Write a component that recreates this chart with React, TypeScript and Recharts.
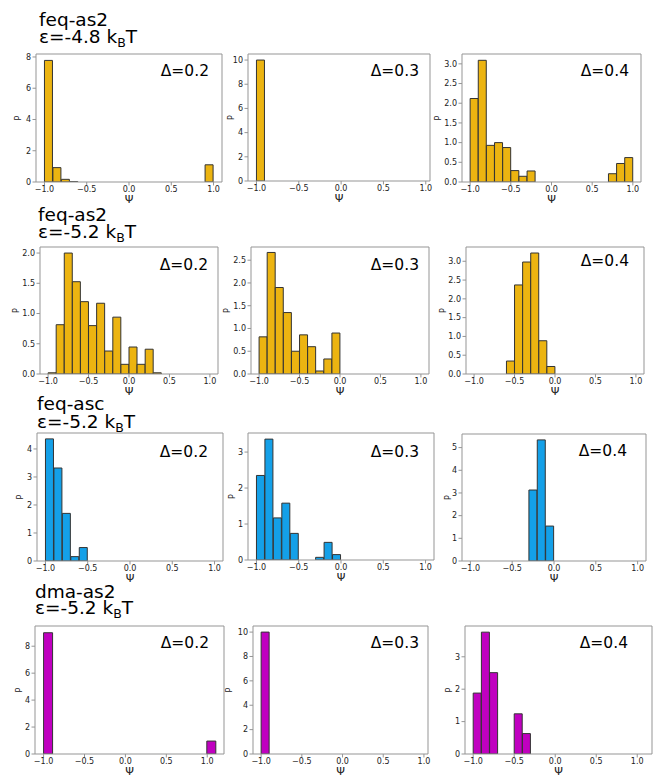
import React from 'react';
import { BarChart, Bar, XAxis, YAxis } from 'recharts';

// ---------- bin centres (categories) ----------
const BINS = [-0.95, -0.85, -0.75, -0.65, -0.55, -0.45, -0.35, -0.25, -0.15, -0.05,
  0.05, 0.15, 0.25, 0.35, 0.45, 0.55, 0.65, 0.75, 0.85, 0.95];
const BINS_WIDE = [-0.9475, -0.8425, -0.7375, -0.6325, -0.5275, -0.4225, -0.3175, -0.2125, -0.1075, -0.0025,
  0.1025, 0.2075, 0.3125, 0.4175, 0.5225, 0.6275, 0.7325, 0.8375, 0.9425, 1.0475];

// ---------- series values (probability density per bin) ----------
const FEQ_AS2_E48_D02 = [7.78, 0.92, 0.17, 0.02, 0, 0, 0, 0, 0, 0, 0, 0, 0, 0, 0, 0, 0, 0, 0, 1.1];
const FEQ_AS2_E48_D03 = [10, 0, 0, 0, 0, 0, 0, 0, 0, 0, 0, 0, 0, 0, 0, 0, 0, 0, 0, 0];
const FEQ_AS2_E48_D04 = [2.12, 3.09, 0.93, 1.0, 0.875, 0.29, 0.145, 0.28, 0, 0, 0, 0, 0, 0, 0, 0, 0, 0.21, 0.47, 0.62];

const FEQ_AS2_E52_D02 = [0.02, 0.815, 2.0, 1.526, 1.196, 0.8, 1.17, 0.38, 0.94, 0.16, 0.446, 0.16, 0.41, 0.02, 0, 0, 0, 0, 0, 0];
const FEQ_AS2_E52_D03 = [0.816, 2.67, 1.9, 1.35, 0.5, 0.86, 0.6, 0.066, 0.33, 0.9, 0, 0, 0, 0, 0, 0, 0, 0, 0, 0];
const FEQ_AS2_E52_D04 = [0, 0, 0, 0, 0.345, 2.37, 2.98, 3.22, 0.885, 0.2, 0, 0, 0, 0, 0, 0, 0, 0, 0, 0];

const FEQ_ASC_E52_D02 = [4.36, 3.32, 1.7, 0.156, 0.48, 0, 0, 0, 0, 0, 0, 0, 0, 0, 0, 0, 0, 0, 0, 0];
const FEQ_ASC_E52_D03 = [2.35, 3.36, 1.17, 1.58, 0.74, 0, 0, 0.074, 0.49, 0.15, 0, 0, 0, 0, 0, 0, 0, 0, 0, 0];
const FEQ_ASC_E52_D04 = [0, 0, 0, 0, 0, 0, 0, 3.13, 5.34, 1.54, 0, 0, 0, 0, 0, 0, 0, 0, 0, 0];

const DMA_AS2_E52_D02 = [9.0, 0, 0, 0, 0, 0, 0, 0, 0, 0, 0, 0, 0, 0, 0, 0, 0, 0, 0, 0.96];
const DMA_AS2_E52_D03 = [10, 0, 0, 0, 0, 0, 0, 0, 0, 0, 0, 0, 0, 0, 0, 0, 0, 0, 0, 0];
const DMA_AS2_E52_D04 = [1.88, 3.76, 2.51, 0, 0, 1.24, 0.63, 0, 0, 0, 0, 0, 0, 0, 0, 0, 0, 0, 0, 0];

// ---------- tick labels ----------
const X_TICKS = [-1, -0.5, 0, 0.5, 1];
const YT_8 = [0, 2, 4, 6, 8];
const YT_10 = [0, 2, 4, 6, 8, 10];
const YT_3H = [0, 0.5, 1, 1.5, 2, 2.5, 3];
const YT_2H = [0, 0.5, 1, 1.5, 2];
const YT_25H = [0, 0.5, 1, 1.5, 2, 2.5];
const YT_4 = [0, 1, 2, 3, 4];
const YT_3 = [0, 1, 2, 3];
const YT_5 = [0, 1, 2, 3, 4, 5];

// ---------- row titles ----------
const ROW_NAMES = ['feq-as2', 'feq-as2', 'feq-asc', 'dma-as2'];
const ROW_EPS = ['-4.8', '-5.2', '-5.2', '-5.2'];
const DELTAS = ['Δ=0.2', 'Δ=0.3', 'Δ=0.4'];

// ---------- styles / layout ----------
const GOLD = '#ECB411';
const BLUE = '#14A0E8';
const MAGENTA = '#C000C0';
const EDGE = '#333333';
const FRAME = '#959595';
const TXT = '#222222';
const FONT = '"DejaVu Sans", sans-serif';

const TITLE_POS = [
  { x: 39, y1: 26, y2: 43 },
  { x: 38, y1: 221, y2: 238 },
  { x: 37, y1: 410, y2: 427.5 },
  { x: 35, y1: 598, y2: 614 },
];

const PANELS = [
  { bins: BINS, values: FEQ_AS2_E48_D02, color: GOLD, yMax: 8.19, yTicks: YT_8, dec: 0, xDomain: [-1.1, 1.1], box: [36, 54, 222, 182], pDist: 18, delta: 0, dX: 209, dY: 76 },
  { bins: BINS, values: FEQ_AS2_E48_D03, color: GOLD, yMax: 10.5, yTicks: YT_10, dec: 0, xDomain: [-1.1, 1.05], box: [248, 54, 430, 181], pDist: 17, delta: 1, dX: 419, dY: 76 },
  { bins: BINS, values: FEQ_AS2_E48_D04, color: GOLD, yMax: 3.25, yTicks: YT_3H, dec: 1, xDomain: [-1.1, 1.1], box: [462, 54, 641, 182], pDist: 24, delta: 2, dX: 629, dY: 76 },

  { bins: BINS, values: FEQ_AS2_E52_D02, color: GOLD, yMax: 2.1, yTicks: YT_2H, dec: 1, xDomain: [-1.1, 1.1], box: [40, 247, 218, 374], pDist: 24, delta: 0, dX: 208, dY: 270 },
  { bins: BINS, values: FEQ_AS2_E52_D03, color: GOLD, yMax: 2.79, yTicks: YT_25H, dec: 1, xDomain: [-1.1, 1.1], box: [251, 247, 429, 374], pDist: 24, delta: 1, dX: 419, dY: 270 },
  { bins: BINS, values: FEQ_AS2_E52_D04, color: GOLD, yMax: 3.38, yTicks: YT_3H, dec: 1, xDomain: [-1.1, 1.1], box: [466, 247, 644, 374], pDist: 23, delta: 2, dX: 629, dY: 266 },

  { bins: BINS, values: FEQ_ASC_E52_D02, color: BLUE, yMax: 4.57, yTicks: YT_4, dec: 0, xDomain: [-1.1, 1.1], box: [37, 433, 223, 561], pDist: 17, delta: 0, dX: 208, dY: 456.5 },
  { bins: BINS, values: FEQ_ASC_E52_D03, color: BLUE, yMax: 3.53, yTicks: YT_3, dec: 0, xDomain: [-1.1, 1.1], box: [248, 433, 434, 560], pDist: 16, delta: 1, dX: 419, dY: 457 },
  { bins: BINS, values: FEQ_ASC_E52_D04, color: BLUE, yMax: 5.6, yTicks: YT_5, dec: 0, xDomain: [-1.1, 1.1], box: [462, 434, 646, 561], pDist: 14, delta: 2, dX: 627, dY: 456 },

  { bins: BINS_WIDE, values: DMA_AS2_E52_D02, color: MAGENTA, yMax: 9.5, yTicks: YT_8, dec: 0, xDomain: [-1.105, 1.205], box: [35, 626, 224, 754], pDist: 16, delta: 0, dX: 209, dY: 648 },
  { bins: BINS, values: DMA_AS2_E52_D03, color: MAGENTA, yMax: 10.5, yTicks: YT_10, dec: 0, xDomain: [-1.1, 1.05], box: [253, 626, 428, 754], pDist: 24, delta: 1, dX: 419, dY: 648 },
  { bins: BINS, values: DMA_AS2_E52_D04, color: MAGENTA, yMax: 3.95, yTicks: YT_3, dec: 0, xDomain: [-1.1, 1.18], box: [465, 626, 652, 754], pDist: 16, delta: 2, dX: 628, dY: 648 },
];

const fmtX = (v: number) => (v < 0 ? '\u2212' : '') + Math.abs(v).toFixed(1);

function Panel({ cfg }: { cfg: any }) {
  const [l, t, r, b] = cfg.box;
  const mT = 6;
  const mR = 10;
  const xH = 26;
  const yW = cfg.pDist * 2;
  const w = (r - l) + yW + mR;
  const h = (b - t) + mT + xH;
  const data = cfg.bins.map((x: number, i: number) => ({ x, p: cfg.values[i] }));
  const tickStyle = { fontSize: 8, fill: TXT, fontFamily: FONT };
  return (
    <div style={{ position: 'absolute', left: l - yW, top: t - mT }}>
      <BarChart
        width={w}
        height={h}
        data={data}
        margin={{ top: mT - 1, right: mR - 1, left: 0, bottom: 0 }}
        barCategoryGap={0}
        barGap={0}
      >
        <XAxis
          dataKey="x"
          type="number"
          domain={cfg.xDomain}
          ticks={X_TICKS}
          interval={0}
          allowDataOverflow
          height={xH}
          tickSize={3.5}
          tickMargin={1}
          tick={tickStyle}
          tickLine={{ stroke: FRAME }}
          axisLine={{ stroke: FRAME }}
          tickFormatter={fmtX}
          label={{ value: 'Ψ', position: 'insideBottom', offset: xH - 21, fontSize: 11, fill: TXT, fontFamily: FONT }}
        />
        <XAxis
          xAxisId="top"
          dataKey="x"
          type="number"
          orientation="top"
          domain={cfg.xDomain}
          allowDataOverflow
          height={1}
          tick={false}
          tickLine={false}
          axisLine={{ stroke: FRAME }}
        />
        <YAxis
          type="number"
          domain={[0, cfg.yMax]}
          ticks={cfg.yTicks}
          interval={0}
          allowDataOverflow
          width={yW}
          tickSize={3.5}
          tickMargin={1.5}
          tick={tickStyle}
          tickLine={{ stroke: FRAME }}
          axisLine={{ stroke: FRAME }}
          tickFormatter={(v: number) => v.toFixed(cfg.dec)}
          label={{ value: 'P', angle: -90, position: 'center', fontSize: 8, fill: TXT, fontFamily: FONT }}
        />
        <YAxis
          yAxisId="right"
          orientation="right"
          type="number"
          domain={[0, cfg.yMax]}
          allowDataOverflow
          width={1}
          tick={false}
          tickLine={false}
          axisLine={{ stroke: FRAME }}
        />
        <Bar dataKey="p" fill={cfg.color} stroke={EDGE} strokeWidth={1} isAnimationActive={false} />
      </BarChart>
    </div>
  );
}

export default function App() {
  return (
    <div style={{ position: 'absolute', left: 0, top: 0, width: 659, height: 778, background: '#fff', overflow: 'hidden' }}>
      {PANELS.map((cfg, i) => (
        <Panel key={i} cfg={cfg} />
      ))}
      <svg width={659} height={778} style={{ position: 'absolute', left: 0, top: 0, pointerEvents: 'none' }}>
        {ROW_NAMES.map((name, i) => (
          <g key={i} fontFamily={FONT} fill="#000">
            <text x={TITLE_POS[i].x} y={TITLE_POS[i].y1} fontSize={18.5}>{name}</text>
            <text x={TITLE_POS[i].x} y={TITLE_POS[i].y2} fontSize={18.5}>
              {'ε=' + ROW_EPS[i] + ' k'}
              <tspan fontSize={12.5} dy={4.3}>B</tspan>
              <tspan dy={-4.3}>T</tspan>
            </text>
          </g>
        ))}
        {PANELS.map((cfg, i) => (
          <text key={'d' + i} x={cfg.dX} y={cfg.dY} textAnchor="end" fontSize={15.5} fontFamily={FONT} fill="#000">
            {DELTAS[cfg.delta]}
          </text>
        ))}
      </svg>
    </div>
  );
}
